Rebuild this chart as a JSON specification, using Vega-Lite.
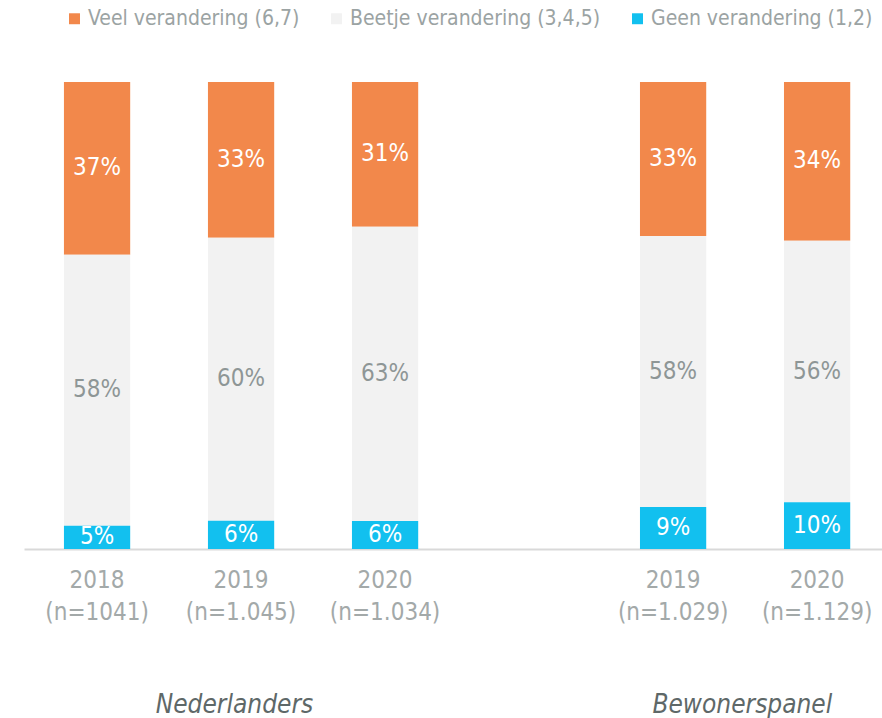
{
  "$schema": "https://vega.github.io/schema/vega-lite/v6.json",
  "width": 858,
  "height": 467,
  "autosize": {"type": "none"},
  "padding": {"left": 24, "top": 82, "right": 0, "bottom": 169},
  "config": {"view": {"stroke": null}, "font": "DejaVu Sans Condensed"},
  "datasets": {
    "bars": [
      {"cat": "2018|(n=1041)", "series": "Veel verandering (6,7)", "order": 3, "value": 0.37},
      {"cat": "2018|(n=1041)", "series": "Beetje verandering (3,4,5)", "order": 2, "value": 0.58},
      {"cat": "2018|(n=1041)", "series": "Geen verandering (1,2)", "order": 1, "value": 0.05},
      {"cat": "2019|(n=1.045)", "series": "Veel verandering (6,7)", "order": 3, "value": 0.33},
      {"cat": "2019|(n=1.045)", "series": "Beetje verandering (3,4,5)", "order": 2, "value": 0.60},
      {"cat": "2019|(n=1.045)", "series": "Geen verandering (1,2)", "order": 1, "value": 0.06},
      {"cat": "2020|(n=1.034)", "series": "Veel verandering (6,7)", "order": 3, "value": 0.31},
      {"cat": "2020|(n=1.034)", "series": "Beetje verandering (3,4,5)", "order": 2, "value": 0.63},
      {"cat": "2020|(n=1.034)", "series": "Geen verandering (1,2)", "order": 1, "value": 0.06},
      {"cat": "2019|(n=1.029)", "series": "Veel verandering (6,7)", "order": 3, "value": 0.33},
      {"cat": "2019|(n=1.029)", "series": "Beetje verandering (3,4,5)", "order": 2, "value": 0.58},
      {"cat": "2019|(n=1.029)", "series": "Geen verandering (1,2)", "order": 1, "value": 0.09},
      {"cat": "2020|(n=1.129)", "series": "Veel verandering (6,7)", "order": 3, "value": 0.34},
      {"cat": "2020|(n=1.129)", "series": "Beetje verandering (3,4,5)", "order": 2, "value": 0.56},
      {"cat": "2020|(n=1.129)", "series": "Geen verandering (1,2)", "order": 1, "value": 0.10}
    ]
  },
  "layer": [
    {
      "data": {"name": "bars"},
      "mark": {"type": "bar"},
      "encoding": {
        "x": {
          "field": "cat", "type": "nominal", "title": null,
          "scale": {
            "domain": ["2018|(n=1041)", "2019|(n=1.045)", "2020|(n=1.034)", " ", "2019|(n=1.029)", "2020|(n=1.129)"],
            "paddingInner": 0.54, "paddingOuter": 0.249, "align": 0.557
          },
          "axis": {
            "labelExpr": "split(datum.value, '|')",
            "labelAngle": 0, "ticks": false,
            "domainColor": "#D9D9D9", "domainWidth": 2,
            "labelColor": "#A3A9A9", "labelFontSize": 24, "labelLineHeight": 32,
            "labelPadding": 19, "labelFont": "DejaVu Sans Condensed"
          }
        },
        "y": {"field": "value", "type": "quantitative", "stack": "normalize", "scale": {"domain": [0, 1], "nice": false}, "axis": null},
        "color": {
          "field": "series", "type": "nominal",
          "scale": {
            "domain": ["Veel verandering (6,7)", "Beetje verandering (3,4,5)", "Geen verandering (1,2)"],
            "range": ["#F2884B", "#F2F2F2", "#12C0EF"]
          },
          "legend": {
            "orient": "none", "legendX": 40, "legendY": -74, "direction": "horizontal", "title": null,
            "symbolType": "square", "symbolSize": 120, "symbolStrokeWidth": 0, "symbolOpacity": 1,
            "labelFontSize": 21, "labelColor": "#9BA3A3", "labelOffset": 3, "columnPadding": 26,
            "labelFont": "DejaVu Sans Condensed", "labelLimit": 400
          }
        },
        "order": {"field": "order"}
      }
    },
    {
      "data": {"name": "bars"},
      "mark": {"type": "text", "fontSize": 24, "font": "DejaVu Sans Condensed", "baseline": "middle"},
      "encoding": {
        "x": {"field": "cat", "type": "nominal"},
        "y": {"field": "value", "type": "quantitative", "stack": "normalize", "bandPosition": 0.5, "scale": {"domain": [0, 1], "nice": false}},
        "detail": {"field": "series"},
        "order": {"field": "order"},
        "text": {"field": "value", "type": "quantitative", "format": ".0%"},
        "color": {"condition": {"test": "datum.series === 'Beetje verandering (3,4,5)'", "value": "#8E9696"}, "value": "#FFFFFF"}
      }
    },
    {
      "data": {"values": [{"g": "Nederlanders"}]},
      "mark": {"type": "text", "fontSize": 26, "fontStyle": "italic", "font": "DejaVu Sans Condensed", "color": "#5E6868", "baseline": "middle"},
      "encoding": {
        "x": {"datum": "2019|(n=1.045)", "type": "nominal", "bandPosition": 0.4},
        "y": {"datum": -0.333, "type": "quantitative", "scale": {"domain": [0, 1], "nice": false}},
        "text": {"field": "g"}
      }
    },
    {
      "data": {"values": [{"g": "Bewonerspanel"}]},
      "mark": {"type": "text", "fontSize": 26, "fontStyle": "italic", "font": "DejaVu Sans Condensed", "color": "#5E6868", "baseline": "middle"},
      "encoding": {
        "x": {"datum": "2019|(n=1.029)", "type": "nominal", "bandPosition": 1.545},
        "y": {"datum": -0.333, "type": "quantitative", "scale": {"domain": [0, 1], "nice": false}},
        "text": {"field": "g"}
      }
    }
  ]
}
